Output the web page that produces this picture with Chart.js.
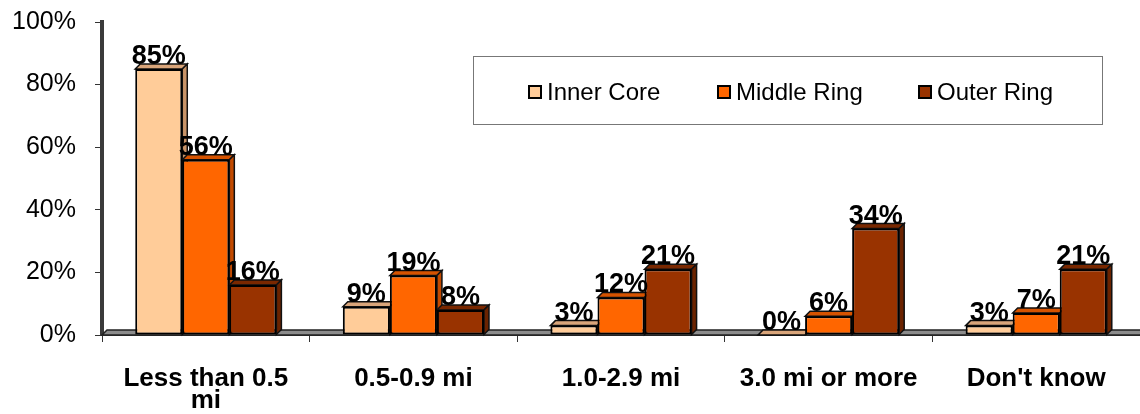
<!DOCTYPE html>
<html>
<head>
<meta charset="utf-8">
<script src="https://cdn.jsdelivr.net/npm/chart.js@4.4.1/dist/chart.umd.min.js"></script>
<style>
  html, body { margin: 0; padding: 0; background: #fff; }
  #wrap { width: 1140px; height: 414px; position: relative; }
</style>
</head>
<body>
<div id="wrap"><canvas id="c"></canvas></div>
<script>
// ---- data ----
const categories = [['Less than 0.5', 'mi'], '0.5-0.9 mi', '1.0-2.9 mi', '3.0 mi or more', "Don't know"];
const seriesNames = ['Inner Core', 'Middle Ring', 'Outer Ring'];
const innerCore = [85, 9, 3, 0, 3];
const middleRing = [56, 19, 12, 6, 7];
const outerRing = [16, 8, 21, 34, 21];
const yTicks = [0, 20, 40, 60, 80, 100];

// ---- styles ----
const FONT = '"Liberation Sans", Arial, Helvetica, sans-serif';
const fills = ['#FFCC99', '#FF6600', '#993300'];
const tops = ['#D9A57A', '#D65300', '#7A2800'];
const sides = ['#C99468', '#C24A00', '#6B2300'];
const DX = 5, DY = 5;

const depthPlugin = {
  id: 'depth',
  beforeDatasetsDraw(chart) {
    const ctx = chart.ctx;
    const ca = chart.chartArea;
    const y0 = chart.scales.y.getPixelForValue(0);
    ctx.save();
    ctx.beginPath();
    ctx.moveTo(ca.left, y0);
    ctx.lineTo(ca.right, y0);
    ctx.lineTo(ca.right + DX, y0 - DY);
    ctx.lineTo(ca.left + DX, y0 - DY);
    ctx.closePath();
    ctx.fillStyle = '#8C8C8C';
    ctx.fill();
    ctx.lineWidth = 1.5;
    ctx.strokeStyle = '#222';
    ctx.stroke();
    chart.data.datasets.forEach((ds, di) => {
      const meta = chart.getDatasetMeta(di);
      meta.data.forEach((bar) => {
        const l = bar.x - bar.width / 2, r = bar.x + bar.width / 2;
        const t = bar.y, b = bar.base;
        ctx.beginPath();
        ctx.moveTo(l, t);
        ctx.lineTo(l + DX, t - DY);
        ctx.lineTo(r + DX, t - DY);
        ctx.lineTo(r, t);
        ctx.closePath();
        ctx.fillStyle = tops[di];
        ctx.fill();
        ctx.lineWidth = 1.5;
        ctx.strokeStyle = '#111';
        ctx.stroke();
        ctx.beginPath();
        ctx.moveTo(r, t);
        ctx.lineTo(r + DX, t - DY);
        ctx.lineTo(r + DX, b - DY);
        ctx.lineTo(r, b);
        ctx.closePath();
        ctx.fillStyle = sides[di];
        ctx.fill();
        ctx.stroke();
      });
    });
    ctx.restore();
  },
  afterDatasetsDraw(chart) {
    const ctx = chart.ctx;
    ctx.save();
    ctx.font = 'bold 27px ' + FONT;
    ctx.fillStyle = '#000';
    ctx.textAlign = 'center';
    ctx.textBaseline = 'alphabetic';
    chart.data.datasets.forEach((ds, di) => {
      const meta = chart.getDatasetMeta(di);
      meta.data.forEach((bar, i) => {
        ctx.fillText(ds.data[i] + '%', bar.x, bar.y - 5);
      });
    });
    ctx.restore();
  },
  afterDraw(chart) {
    const ctx = chart.ctx;
    ctx.save();
    const bx = 473, by = 56, bw = 629, bh = 68;
    ctx.fillStyle = '#fff';
    ctx.fillRect(bx, by, bw, bh);
    ctx.strokeStyle = '#777';
    ctx.lineWidth = 1;
    ctx.strokeRect(bx + 0.5, by + 0.5, bw, bh);
    const itemX = [529, 718, 919];
    const cy = 92;
    ctx.font = '24px ' + FONT;
    ctx.textBaseline = 'middle';
    ctx.textAlign = 'left';
    chart.data.datasets.forEach((ds, di) => {
      const x = itemX[di];
      ctx.fillStyle = fills[di];
      ctx.fillRect(x, cy - 6, 12, 12);
      ctx.lineWidth = 2;
      ctx.strokeStyle = '#000';
      ctx.strokeRect(x, cy - 6, 12, 12);
      ctx.fillStyle = '#000';
      ctx.fillText(ds.label, x + 18, cy + 1);
    });
    ctx.restore();
  }
};

new Chart(document.getElementById('c'), {
  type: 'bar',
  data: {
    labels: categories,
    datasets: [
      { label: seriesNames[0], data: innerCore, backgroundColor: fills[0] },
      { label: seriesNames[1], data: middleRing, backgroundColor: fills[1] },
      { label: seriesNames[2], data: outerRing, backgroundColor: fills[2] }
    ]
  },
  options: {
    responsive: true,
    maintainAspectRatio: false,
    animation: false,
    layout: { padding: { top: 22, right: 0, left: 0, bottom: 0 } },
    datasets: {
      bar: {
        borderColor: '#000',
        borderWidth: 2,
        borderSkipped: false,
        categoryPercentage: 0.68,
        barPercentage: 1.0
      }
    },
    plugins: {
      legend: { display: false },
      tooltip: { enabled: false }
    },
    scales: {
      x: {
        afterFit(s) { s.height = 79; s.paddingLeft = 0; s.paddingRight = 0; },
        grid: {
          offset: true,
          drawOnChartArea: false,
          drawTicks: true,
          tickLength: 7,
          color: '#333',
          lineWidth: 1
        },
        border: { display: true, color: '#333', width: 2 },
        ticks: {
          color: '#000',
          font: { family: FONT, size: 26, weight: 'bold', lineHeight: 0.88 },
          padding: 25,
          maxRotation: 0,
          autoSkip: false
        }
      },
      y: {
        min: 0,
        max: 100,
        afterFit(s) { s.width = 102; s.paddingTop = 0; s.paddingBottom = 0; },
        afterBuildTicks(s) { s.ticks = yTicks.map(v => ({ value: v })); },
        grid: {
          drawOnChartArea: false,
          drawTicks: true,
          tickLength: 7,
          color: '#333',
          lineWidth: 1
        },
        border: { display: true, color: '#3a3a3a', width: 4 },
        ticks: {
          color: '#000',
          font: { family: FONT, size: 25 },
          padding: 19,
          callback: (v) => v + '%'
        }
      }
    }
  },
  plugins: [depthPlugin]
});
</script>
</body>
</html>
